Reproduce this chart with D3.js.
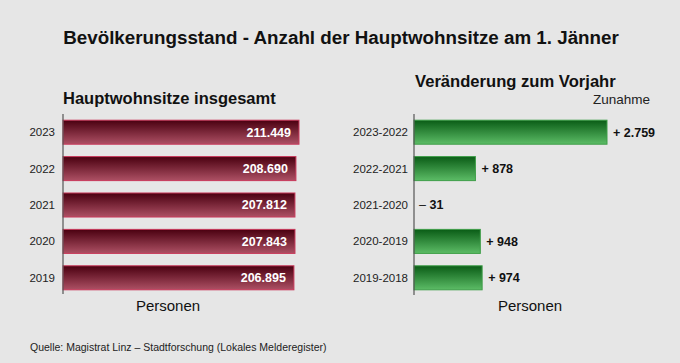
<!DOCTYPE html>
<html>
<head>
<meta charset="utf-8">
<script src="https://cdn.jsdelivr.net/npm/d3@7"></script>
<style>
  body { margin: 0; background: #e6e6e6; }
  svg { display: block; font-family: "Liberation Sans", Arial, sans-serif; }
</style>
</head>
<body>
<div id="chart"></div>
<script>
// data
var years = ["2023", "2022", "2021", "2020", "2019"];
var totals = [211449, 208690, 207812, 207843, 206895];
var periods = ["2023-2022", "2022-2021", "2021-2020", "2020-2019", "2019-2018"];
var changes = [2759, 878, -31, 948, 974];

var svgWidth = 680, svgHeight = 363;

var svg = d3.select("#chart").append("svg")
    .attr("width", svgWidth)
    .attr("height", svgHeight);

svg.append("rect").attr("width", svgWidth).attr("height", svgHeight).attr("fill", "#e6e6e6");

// gradients
var defs = svg.append("defs");
var gRed = defs.append("linearGradient").attr("id", "gradRed")
    .attr("x1", 0).attr("y1", 0).attr("x2", 0).attr("y2", 1);
gRed.append("stop").attr("offset", "0%").attr("stop-color", "#4a0010");
gRed.append("stop").attr("offset", "100%").attr("stop-color", "#ad5064");
var gGreen = defs.append("linearGradient").attr("id", "gradGreen")
    .attr("x1", 0).attr("y1", 0).attr("x2", 0).attr("y2", 1);
gGreen.append("stop").attr("offset", "0%").attr("stop-color", "#0a5c16");
gGreen.append("stop").attr("offset", "100%").attr("stop-color", "#5cbc66");

var fmt = d3.format(",");
function de(n) { return fmt(n).replace(/,/g, "."); }

// title
svg.append("text")
    .attr("x", 341).attr("y", 44)
    .attr("text-anchor", "middle")
    .attr("font-size", "18.8px").attr("font-weight", "bold")
    .attr("fill", "#111")
    .text("Bevölkerungsstand - Anzahl der Hauptwohnsitze am 1. Jänner");

// shared band scale
var yScale = d3.scaleBand()
    .domain(d3.range(5))
    .range([114, 296])
    .paddingInner(0.34)
    .paddingOuter(0.17);

// ---- left chart ----
var left = svg.append("g");
var xLeft = d3.scaleLinear().domain([0, 211449]).range([63, 299]);

left.append("text")
    .attr("x", 63).attr("y", 104)
    .attr("font-size", "16.5px").attr("font-weight", "bold").attr("fill", "#111")
    .text("Hauptwohnsitze insgesamt");

left.selectAll("rect.bar")
    .data(totals)
    .enter().append("rect")
    .attr("class", "bar")
    .attr("x", xLeft(0))
    .attr("y", (d, i) => yScale(i))
    .attr("width", d => xLeft(d) - xLeft(0))
    .attr("height", yScale.bandwidth())
    .attr("fill", "url(#gradRed)")
    .attr("stroke", "#c8385a")
    .attr("stroke-width", 1);

left.selectAll("text.val")
    .data(totals)
    .enter().append("text")
    .attr("class", "val")
    .attr("x", d => xLeft(d) - 8)
    .attr("y", (d, i) => yScale(i) + yScale.bandwidth() / 2)
    .attr("dy", "0.35em")
    .attr("text-anchor", "end")
    .attr("font-size", "12.5px").attr("font-weight", "bold")
    .attr("fill", "#fff")
    .text(d => de(d));

left.selectAll("text.cat")
    .data(years)
    .enter().append("text")
    .attr("class", "cat")
    .attr("x", 55)
    .attr("y", (d, i) => yScale(i) + yScale.bandwidth() / 2)
    .attr("dy", "0.35em")
    .attr("text-anchor", "end")
    .attr("font-size", "11.5px").attr("fill", "#222")
    .text(d => d);

left.append("line")
    .attr("x1", 63).attr("x2", 63).attr("y1", 114).attr("y2", 294)
    .attr("stroke", "#555").attr("stroke-width", 1.2);

left.append("text")
    .attr("x", 168).attr("y", 311)
    .attr("text-anchor", "middle")
    .attr("font-size", "15px").attr("fill", "#111")
    .text("Personen");

// ---- right chart ----
var right = svg.append("g");
var xRight = d3.scaleLinear().domain([0, 2759]).range([414, 607]);

right.append("text")
    .attr("x", 415).attr("y", 87)
    .attr("font-size", "16.6px").attr("font-weight", "bold").attr("fill", "#111")
    .text("Veränderung zum Vorjahr");

right.append("text")
    .attr("x", 650).attr("y", 104)
    .attr("text-anchor", "end")
    .attr("font-size", "13.5px").attr("fill", "#222")
    .text("Zunahme");

right.selectAll("rect.bar")
    .data(changes.filter(d => d > 0).map(d => ({ v: d, i: changes.indexOf(d) })))
    .enter().append("rect")
    .attr("class", "bar")
    .attr("x", xRight(0))
    .attr("y", d => yScale(d.i))
    .attr("width", d => xRight(d.v) - xRight(0))
    .attr("height", yScale.bandwidth())
    .attr("fill", "url(#gradGreen)")
    .attr("stroke", "#3e9e48")
    .attr("stroke-width", 1);

var valR = right.selectAll("text.val")
    .data(changes)
    .enter().append("text")
    .attr("class", "val")
    .attr("x", d => d > 0 ? xRight(d) + 6 : xRight(0) + 5)
    .attr("y", (d, i) => yScale(i) + yScale.bandwidth() / 2)
    .attr("dy", "0.35em")
    .attr("font-size", "12.5px")
    .attr("fill", "#111");
valR.append("tspan")
    .attr("font-weight", d => d > 0 ? "bold" : "normal")
    .text(d => d > 0 ? "+ " : "– ");
valR.append("tspan")
    .attr("font-weight", "bold")
    .text(d => de(Math.abs(d)));

right.selectAll("text.cat")
    .data(periods)
    .enter().append("text")
    .attr("class", "cat")
    .attr("x", 408)
    .attr("y", (d, i) => yScale(i) + yScale.bandwidth() / 2)
    .attr("dy", "0.35em")
    .attr("text-anchor", "end")
    .attr("font-size", "11.5px").attr("fill", "#222")
    .text(d => d);

right.append("line")
    .attr("x1", 414).attr("x2", 414).attr("y1", 114).attr("y2", 295)
    .attr("stroke", "#555").attr("stroke-width", 1.2);

right.append("text")
    .attr("x", 530).attr("y", 311)
    .attr("text-anchor", "middle")
    .attr("font-size", "15px").attr("fill", "#111")
    .text("Personen");

// source
svg.append("text")
    .attr("x", 30).attr("y", 351)
    .attr("font-size", "10.5px").attr("fill", "#222")
    .text("Quelle: Magistrat Linz – Stadtforschung (Lokales Melderegister)");
</script>
</body>
</html>
